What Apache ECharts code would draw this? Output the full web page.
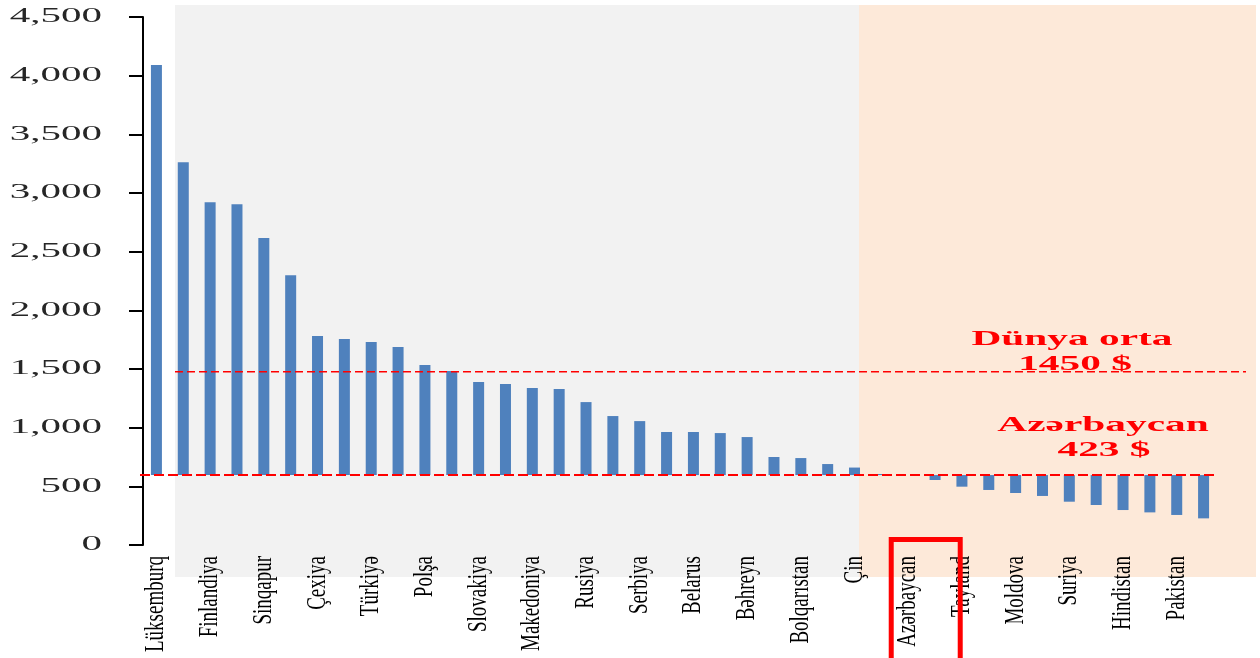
<!DOCTYPE html>
<html>
<head>
<meta charset="utf-8">
<title>chart</title>
<script src="https://cdn.jsdelivr.net/npm/echarts@6/dist/echarts.min.js"></script>
<style>
  html,body{margin:0;padding:0;background:#fff;}
  #main{width:1260px;height:658px;}
</style>
</head>
<body>
<div id="main"></div>
<script>
//countries (every second one carries a label on the axis)
var countries = ['Lüksemburq','','Finlandiya','','Sinqapur','','Çexiya','','Türkiyə','','Polşa','',
  'Slovakiya','','Makedoniya','','Rusiya','','Serbiya','','Belarus','','Bəhreyn','','Bolqarıstan','',
  'Çin','','Azərbaycan','','Tayland','','Moldova','','Suriya','','Hindistan','','Pakistan',''];
//bar tips read on the left axis
var values = [4090,3263,2922,2905,2616,2300,1781,1755,1730,1687,1534,1483,1389,1372,1338,1329,
  1218,1099,1056,963,963,954,920,750,741,690,660,605,596,554,497,469,443,418,369,341,298,278,256,227];
//left axis ticks
var yTicks = [0,500,1000,1500,2000,2500,3000,3500,4000,4500];
//world average line (position on the axis) and the notes
var worldLine = 1477;
var worldNote = ['Dünya orta','1450 $'];
var azNote = ['Azərbaycan','423 $'];

//bars hang from the Azerbaijan value
var baseIndex = countries.indexOf('Azərbaycan');
var base = values[baseIndex];

var chart = echarts.init(document.getElementById('main'));

function setChartOption(chart){
  var option = {
    animation:false,
    grid:{left:143,right:43,top:17,bottom:113},
    xAxis:{
      type:'category',
      data:countries,
      axisLine:{show:false},
      axisTick:{show:false},
      axisLabel:{show:false}
    },
    yAxis:{
      type:'value',
      min:0,
      max:4500,
      interval:500,
      axisLine:{show:true,lineStyle:{color:'#000',width:2}},
      axisTick:{show:true,length:14,lineStyle:{color:'#000',width:2}},
      axisLabel:{show:false},
      splitLine:{show:false}
    },
    series:[
      {  //invisible part under each bar
        type:'bar',
        stack:'v',
        barWidth:11,
        silent:true,
        itemStyle:{color:'rgba(0,0,0,0)'},
        data:values.map(function(v){ return Math.min(v,base); })
      },
      {
        type:'bar',
        stack:'v',
        barWidth:11,
        itemStyle:{color:'#4f81bd'},
        data:values.map(function(v){ return Math.abs(v-base); })
      }
    ]
  };
  chart.setOption(option);
}

setChartOption(chart);

function px(i,v){
  return chart.convertToPixel({gridIndex:0},[i,v]);
}

var g = [];
//shaded backgrounds
g.push({type:'rect',z:-10,shape:{x:175,y:5,width:684,height:572},style:{fill:'#f2f2f2'}});
g.push({type:'rect',z:-10,shape:{x:859,y:5,width:397,height:572},style:{fill:'#fde9d9'}});

//left axis labels
yTicks.forEach(function(t){
  g.push({type:'text',z:10,x:102,y:px(0,t)[1],scaleX:2.05,
    style:{text:t.toLocaleString('en-US'),fontFamily:'Liberation Serif',fontSize:20,fill:'#262626',
      align:'right',verticalAlign:'middle'}});
});

//category labels, rotated
countries.forEach(function(c,i){
  if(!c) return;
  g.push({type:'text',z:10,x:px(i,0)[0],y:556,rotation:Math.PI/2,scaleY:1.4,
    style:{text:c,fontFamily:'Liberation Serif',fontSize:19,fill:'#000',
      align:'right',verticalAlign:'middle'}});
});

//red dashed lines
var yw = px(0,worldLine)[1];
var ya = px(0,base)[1];
g.push({type:'line',z:50,shape:{x1:175,y1:yw,x2:1246,y2:yw},
  style:{stroke:'#ff0000',lineWidth:1.5,lineDash:[8,4]}});
g.push({type:'line',z:50,shape:{x1:140,y1:ya,x2:1218,y2:ya},
  style:{stroke:'#ff0000',lineWidth:2,lineDash:[10,4]}});

//notes
function note(text,x,y){
  g.push({type:'text',z:60,x:x,y:y,scaleX:1.88,
    style:{text:text,fontFamily:'Liberation Serif',fontWeight:'bold',fontSize:22,fill:'#ff0000',
      align:'center',verticalAlign:'middle'}});
}
note(worldNote[0],1072,339);
note(worldNote[1],1075,364);
note(azNote[0],1103,425);
note(azNote[1],1104,450);

//box around Azerbaijan label
var xa = px(baseIndex,0)[0];
g.push({type:'rect',z:60,shape:{x:xa-17,y:539.5,width:69,height:130},
  style:{fill:'none',stroke:'#ff0000',lineWidth:5}});

chart.setOption({graphic:g});
</script>
</body>
</html>
